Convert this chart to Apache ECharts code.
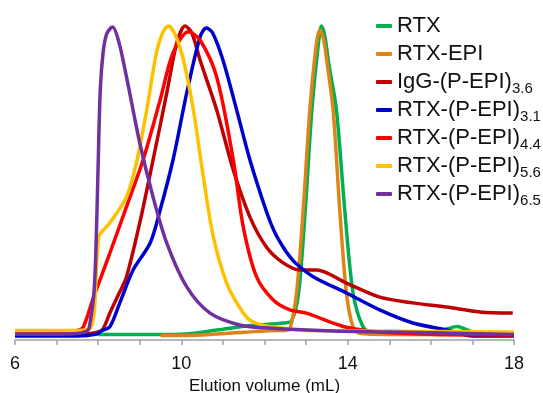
<!DOCTYPE html>
<html>
<head>
<meta charset="utf-8">
<script src="https://cdn.jsdelivr.net/npm/echarts@6/dist/echarts.min.js"></script>
<style>
  html, body { margin: 0; padding: 0; background: #fff; }
  #chart { width: 543px; height: 393px; }
</style>
</head>
<body>
<div id="chart"></div>
<script>
// elution volume (mL) vs normalised absorbance
const rtx = [
  [8.0, 0.017], [9.0, 0.017], [10.0, 0.018], [10.85, 0.031], [11.65, 0.045], [12.45, 0.053],
  [12.65, 0.06], [12.82, 0.147], [12.98, 0.406], [13.14, 0.719], [13.3, 0.93], [13.37, 0.981],
  [13.45, 0.95], [13.55, 0.86], [13.73, 0.719], [13.93, 0.406], [14.13, 0.147], [14.37, 0.041],
  [14.6, 0.02], [15.0, 0.018], [16.0, 0.02], [16.4, 0.035], [16.63, 0.042], [16.85, 0.033],
  [17.1, 0.02], [18.0, 0.017]
];
const rtxEpi = [
  [9.5, 0.014], [10.5, 0.016], [11.5, 0.024], [12.3, 0.03], [12.5, 0.03], [12.61, 0.034],
  [12.77, 0.147], [12.93, 0.406], [13.09, 0.719], [13.25, 0.928], [13.33, 0.969], [13.42, 0.94],
  [13.5, 0.87], [13.65, 0.719], [13.81, 0.406], [13.97, 0.147], [14.13, 0.041], [14.3, 0.02],
  [15.0, 0.017], [18.0, 0.016]
];
const igg36 = [
  [6.0, 0.016], [7.5, 0.016], [7.8, 0.02], [8.0, 0.025], [8.12, 0.035], [8.3, 0.09],
  [8.5, 0.145], [8.68, 0.197], [9.0, 0.366], [9.32, 0.5625], [9.65, 0.772], [9.89, 0.928],
  [10.09, 0.981], [10.25, 0.96], [10.45, 0.875], [10.85, 0.719], [11.25, 0.531], [11.65, 0.384],
  [12.05, 0.29], [12.45, 0.241], [12.85, 0.219], [13.25, 0.219], [13.97, 0.178], [14.77, 0.134],
  [15.57, 0.116], [16.38, 0.103], [17.18, 0.0875], [17.97, 0.084]
];
const rtx31 = [
  [6.0, 0.0125], [7.5, 0.0125], [7.97, 0.019], [8.1, 0.03], [8.28, 0.041], [8.52, 0.116],
  [8.84, 0.219], [9.25, 0.303], [9.49, 0.406], [9.8, 0.5625], [10.13, 0.772], [10.45, 0.947],
  [10.6, 0.975], [10.75, 0.96], [11.0, 0.875], [11.33, 0.719], [11.65, 0.5625], [12.05, 0.40],
  [12.25, 0.335], [12.45, 0.29], [12.6, 0.262], [12.75, 0.24], [13.17, 0.198], [13.97, 0.147],
  [14.77, 0.094], [15.57, 0.053], [16.38, 0.031], [17.0, 0.0125], [18.0, 0.0125]
];
const rtx44 = [
  [6.0, 0.025], [7.0, 0.025], [7.5, 0.03], [7.64, 0.04], [7.88, 0.13], [8.28, 0.271],
  [8.68, 0.416], [9.08, 0.5625], [9.49, 0.75], [9.8, 0.897], [10.17, 0.963], [10.45, 0.9375],
  [10.85, 0.822], [11.25, 0.5625], [11.49, 0.353], [11.81, 0.197], [12.21, 0.125], [12.61, 0.094],
  [13.01, 0.084], [13.65, 0.053], [13.97, 0.04], [14.77, 0.025], [16.0, 0.018], [18.0, 0.016]
];
const rtx56 = [
  [6.0, 0.03], [7.0, 0.03], [7.5, 0.03], [7.8, 0.035], [7.9, 0.08], [7.95, 0.2], [8.0, 0.31],
  [8.04, 0.33], [8.28, 0.366], [8.68, 0.447], [8.93, 0.56], [9.17, 0.72], [9.4, 0.897],
  [9.55, 0.96], [9.69, 0.981], [9.85, 0.955], [10.05, 0.875], [10.29, 0.719], [10.53, 0.509],
  [10.77, 0.322], [11.09, 0.178], [11.41, 0.1], [11.65, 0.062], [12.0, 0.045], [12.45, 0.037],
  [13.0, 0.03], [18.0, 0.025]
];
const rtx65 = [
  [6.0, 0.018], [7.0, 0.018], [7.5, 0.02], [7.75, 0.03], [7.8, 0.05], [7.9, 0.15], [7.95, 0.3],
  [8.0, 0.55], [8.05, 0.78], [8.12, 0.9], [8.2, 0.955], [8.3, 0.975], [8.35, 0.978], [8.5, 0.93],
  [8.68, 0.823], [9.0, 0.616], [9.32, 0.447], [9.65, 0.303], [10.13, 0.166], [10.69, 0.084],
  [11.4, 0.047], [12.0, 0.038], [13.65, 0.028], [15.0, 0.025], [18.0, 0.017]
];

const names = ['RTX', 'RTX-EPI', 'IgG-(P-EPI)3.6', 'RTX-(P-EPI)3.1', 'RTX-(P-EPI)4.4', 'RTX-(P-EPI)5.6', 'RTX-(P-EPI)6.5'];
const colors = ['#00b050', '#dd8418', '#c00000', '#0000cc', '#ff0000', '#ffc000', '#7030a0'];
const seriesData = [rtx, rtxEpi, igg36, rtx31, rtx44, rtx56, rtx65];
const labelTicks = [6, 10, 14, 18];

const chart = echarts.init(document.getElementById('chart'));

chart.setOption({
  animation: false,
  color: colors,
  textStyle: { fontFamily: 'Liberation Sans, Arial, sans-serif' },
  grid: { left: 15, right: 29, top: 20, bottom: 53, outerBoundsMode: 'none' },
  legend: {
    orient: 'vertical',
    left: 371,
    top: 7,
    itemWidth: 16,
    itemHeight: 4,
    itemGap: 0,
    icon: 'roundRect',
    data: names,
    formatter: (name) => {
      const m = name.match(/^(.*\))(\d\.\d)$/);
      return m ? m[1] + '{sub|' + m[2] + '}' : name;
    },
    textStyle: {
      fontSize: 22,
      color: '#111',
      lineHeight: 28,
      rich: {
        sub: { fontSize: 15, lineHeight: 12, verticalAlign: 'bottom', color: '#111' }
      }
    }
  },
  xAxis: {
    type: 'value',
    min: 6,
    max: 18,
    interval: 1,
    name: 'Elution volume (mL)',
    nameLocation: 'middle',
    nameGap: 36,
    nameTextStyle: { fontSize: 17, color: '#111' },
    axisLine: { lineStyle: { color: '#a0a0a0', width: 1.5 } },
    axisTick: { length: 5, lineStyle: { color: '#a0a0a0', width: 1.5 } },
    splitLine: { show: false },
    axisLabel: {
      fontSize: 18,
      color: '#111',
      margin: 15,
      formatter: (v) => (labelTicks.includes(v) ? String(v) : '')
    }
  },
  yAxis: {
    type: 'value',
    min: 0,
    max: 1,
    show: false
  },
  series: names.map((name, i) => ({
    name: name,
    type: 'line',
    data: seriesData[i],
    showSymbol: false,
    symbol: 'none',
    smooth: 0.3,
    lineStyle: { width: 3.5, color: colors[i] }
  }))
});
</script>
</body>
</html>
